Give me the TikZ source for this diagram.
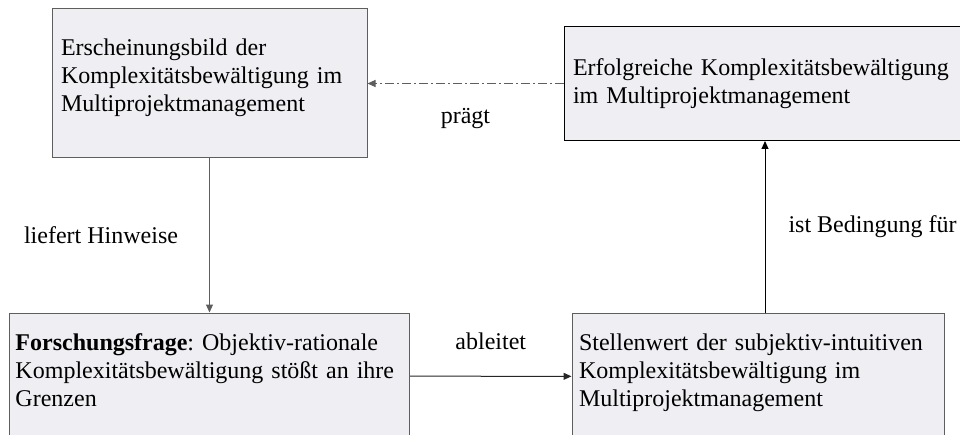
\documentclass[tikz,border=0pt]{standalone}
\usepackage{fontspec}
\setmainfont{Liberation Serif}
\frenchspacing
\usetikzlibrary{positioning,arrows.meta}
\definecolor{kastengrund}{HTML}{EFEEF3}
\definecolor{grau}{HTML}{5E5E5E}
\tikzset{
  kasten/.style={rectangle, draw=grau, fill=kastengrund, line width=1pt,
    align=left, inner ysep=0pt, font=\fontsize{24}{28}\selectfont},
  beschrift/.style={inner sep=0pt, font=\fontsize{24}{28}\selectfont},
  pfeil/.style={-{Triangle[length=8pt,width=7pt]}, line width=1pt},
  pfeilgrau/.style={pfeil, draw=grau, -{Triangle[length=8pt,width=7pt,fill=grau]}},
  pfeilstrich/.style={pfeilgrau, dash pattern=on 9pt off 3pt on 2pt off 3pt},
}

\begin{document}
\begin{tikzpicture}[x=1pt, y=1pt, node distance=154pt and 196pt]
    \useasboundingbox (0,0) rectangle (960,-435);
    \clip (0,0) rectangle (960,-435);
    % obere Reihe
    \node[kasten, minimum width=315pt, minimum height=149pt, inner xsep=9pt, text width=297pt] (bild) at (209.5,-83.5)
      {\mbox{}\\[-22pt]Erscheinungsbild der\\Komplexitätsbewältigung im\\Multiprojektmanagement};
    \node[kasten, draw=black, minimum width=402pt, minimum height=114pt, inner xsep=9pt, text width=384pt, right=196pt of bild] (erfolg)
      {Erfolgreiche Komplexitätsbewältigung\\im Multiprojektmanagement};
    % untere Reihe
    \node[kasten, minimum width=400pt, minimum height=126pt, inner xsep=6pt, text width=388pt, below=154pt of bild] (frage)
      {\textbf{Forschungsfrage}: Objektiv-rationale\\Komplexitätsbewältigung stößt an ihre\\Grenzen\\[-16pt]\mbox{}};
    \node[kasten, minimum width=372pt, minimum height=126pt, inner xsep=7pt, text width=358pt, below=172pt of erfolg, xshift=-7pt] (stellenwert)
      {Stellenwert der subjektiv-intuitiven\\Komplexitätsbewältigung im\\Multiprojektmanagement\\[-16pt]\mbox{}};

    \draw[pfeilgrau] (bild) -- node[beschrift, left=31pt] (hinweise) {liefert Hinweise} (frage);
    \draw[pfeilstrich] (erfolg.west) -- node[beschrift, below=24pt] (praegt) {prägt} (erfolg.west -| bild.east);
    \draw[pfeil, draw=black!85] (frage) -- node[beschrift, above=26pt] (ableitet) {ableitet} (stellenwert);
    \draw[pfeil] (stellenwert.north -| erfolg.south) -- node[beschrift, right=23pt] (bedingung) {ist Bedingung für} (erfolg.south);
\end{tikzpicture}
\end{document}
